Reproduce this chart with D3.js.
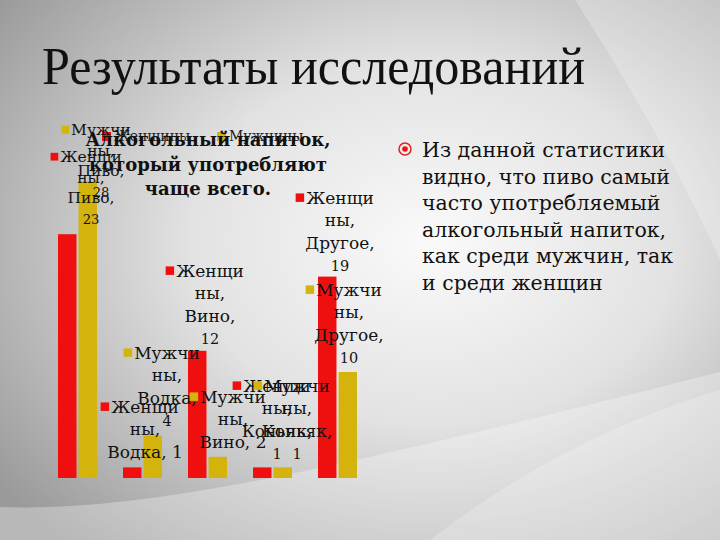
<!DOCTYPE html>
<html>
<head>
<meta charset="utf-8">
<script src="https://cdn.jsdelivr.net/npm/d3@7"></script>
<style>
  body { margin: 0; }
  svg { display: block; }
</style>
</head>
<body>
<div id="chart"></div>
<script>
// data
var categories = ['Пиво', 'Водка', 'Вино', 'Коньяк', 'Другое'];
var series = ['Женщины', 'Мужчины'];
var women = [23, 1, 12, 1, 19];
var men = [28, 4, 2, 1, 10];
var seriesColors = ['#ef0f0f', '#d4b30c'];
var summary = ['Из данной статистики', 'видно, что пиво самый', 'часто употребляемый',
  'алкогольный напиток,', 'как среди мужчин, так', 'и среди женщин'];

// label anchors (layout only) : [series index, category index, cx, first line y, font size, compact]
var labelLayout = [
  [1, 0, 101, 130, 15.5, false],
  [0, 0, 91, 157, 15.5, false],
  [0, 1, 145, 407, 17, true],
  [1, 1, 167, 353, 17, false],
  [0, 2, 210, 271, 17, false],
  [1, 2, 233, 397, 17, true],
  [0, 3, 277, 386, 17, false],
  [1, 3, 297, 386, 17, false],
  [0, 4, 340, 198, 17, false],
  [1, 4, 349, 290, 17, false]
];

var W = 720, H = 540;
var svg = d3.select('#chart').append('svg').attr('width', W).attr('height', H);
var defs = svg.append('defs');

var bg = defs.append('radialGradient').attr('id', 'bg')
  .attr('cx', 0.6).attr('cy', 0.45).attr('r', 0.75);
bg.append('stop').attr('offset', '0%').attr('stop-color', '#fafafa');
bg.append('stop').attr('offset', '45%').attr('stop-color', '#e2e2e2');
bg.append('stop').attr('offset', '100%').attr('stop-color', '#9a9a9a');

svg.append('rect').attr('width', W).attr('height', H).attr('fill', 'url(#bg)');

// soft swirl shapes of the slide
svg.append('path')
  .attr('d', 'M0,507 C150,512 330,470 720,372 L720,540 L0,540 Z')
  .attr('fill', '#ffffff').attr('opacity', 0.3);
svg.append('path')
  .attr('d', 'M430,540 C520,470 620,420 720,390 L720,540 Z')
  .attr('fill', '#ffffff').attr('opacity', 0.22);
svg.append('path')
  .attr('d', 'M575,0 C620,70 680,170 720,260 L720,0 Z')
  .attr('fill', '#ffffff').attr('opacity', 0.25);

// title
svg.append('text')
  .attr('x', 42).attr('y', 84)
  .attr('font-family', 'Liberation Serif, serif')
  .attr('font-size', 52)
  .attr('textLength', 543).attr('lengthAdjust', 'spacingAndGlyphs')
  .attr('fill', '#111')
  .text('Результаты исследований');

// chart
var x0 = d3.scaleBand().domain(categories).range([45, 370]).paddingInner(0.4).paddingOuter(0.2);
var x1 = d3.scaleBand().domain(series).range([0, x0.bandwidth()]).paddingInner(0.1);
var y = d3.scaleLinear().domain([0, 30]).range([478, 160]);

var rows = categories.map(function (c, i) {
  return { cat: c, vals: [women[i], men[i]] };
});

var groups = svg.append('g').selectAll('g').data(rows).enter().append('g')
  .attr('transform', function (d) { return 'translate(' + x0(d.cat) + ',0)'; });

groups.selectAll('rect').data(function (d) {
  return d.vals.map(function (v, j) { return { s: series[j], v: v, j: j }; });
}).enter().append('rect')
  .attr('x', function (d) { return x1(d.s); })
  .attr('y', function (d) { return y(d.v); })
  .attr('width', x1.bandwidth())
  .attr('height', function (d) { return y(0) - y(d.v); })
  .attr('fill', function (d) { return seriesColors[d.j]; });

var font = 'DejaVu Serif, serif';

// legend (sits under the chart title in the original)
var legend = svg.append('g');
[[107, 0], [222, 1]].forEach(function (p) {
  legend.append('rect').attr('x', p[0] - 5).attr('y', 132).attr('width', 9).attr('height', 9)
    .attr('fill', seriesColors[p[1]]);
  legend.append('text').attr('x', p[0] + 7).attr('y', 141)
    .attr('font-family', font).attr('font-size', 14).attr('fill', '#222')
    .text(series[p[1]]);
});

// chart title
var ct = svg.append('text')
  .attr('font-family', font).attr('font-weight', 'bold').attr('font-size', 18)
  .attr('text-anchor', 'middle').attr('fill', '#111');
['Алкогольный напиток,', 'который употребляют', 'чаще всего.'].forEach(function (t, i) {
  ct.append('tspan').attr('x', 208).attr('y', 146 + i * 24.5).text(t);
});

// data labels
labelLayout.forEach(function (l) {
  var sName = series[l[0]];
  var cat = categories[l[1]];
  var val = l[0] === 0 ? women[l[1]] : men[l[1]];
  var lines = [sName.slice(0, 5), sName.slice(5) + ','];
  if (l[5]) lines.push(cat + ', ' + val);
  else { lines.push(cat + ','); lines.push(String(val)); }
  var fs = l[4];
  var lh = fs * 1.32;
  var g = svg.append('g');
  var t = g.append('text').attr('font-family', font).attr('font-size', fs)
    .attr('text-anchor', 'middle').attr('fill', '#111');
  lines.forEach(function (s, i) {
    t.append('tspan').attr('x', l[2]).attr('y', l[3] + fs * 0.35 + i * lh)
      .attr('font-size', i === lines.length - 1 && !l[5] ? fs * 0.85 : fs)
      .text(s);
  });
  var w0 = t.select('tspan').node().getComputedTextLength();
  g.append('rect')
    .attr('x', l[2] - w0 / 2 - fs * 0.62).attr('y', l[3] - fs * 0.27)
    .attr('width', fs * 0.5).attr('height', fs * 0.5)
    .attr('fill', seriesColors[l[0]]);
});

// bullet text on the right
svg.append('circle').attr('cx', 405).attr('cy', 149).attr('r', 6)
  .attr('fill', 'none').attr('stroke', '#d22').attr('stroke-width', 1.5);
svg.append('circle').attr('cx', 405).attr('cy', 149).attr('r', 2.8).attr('fill', '#e11');

var st = svg.append('text').attr('font-family', font)
  .attr('font-size', 20.5).attr('fill', '#111');
summary.forEach(function (s, i) {
  st.append('tspan').attr('x', 422).attr('y', 157 + i * 26.6).text(s);
});
</script>
</body>
</html>
